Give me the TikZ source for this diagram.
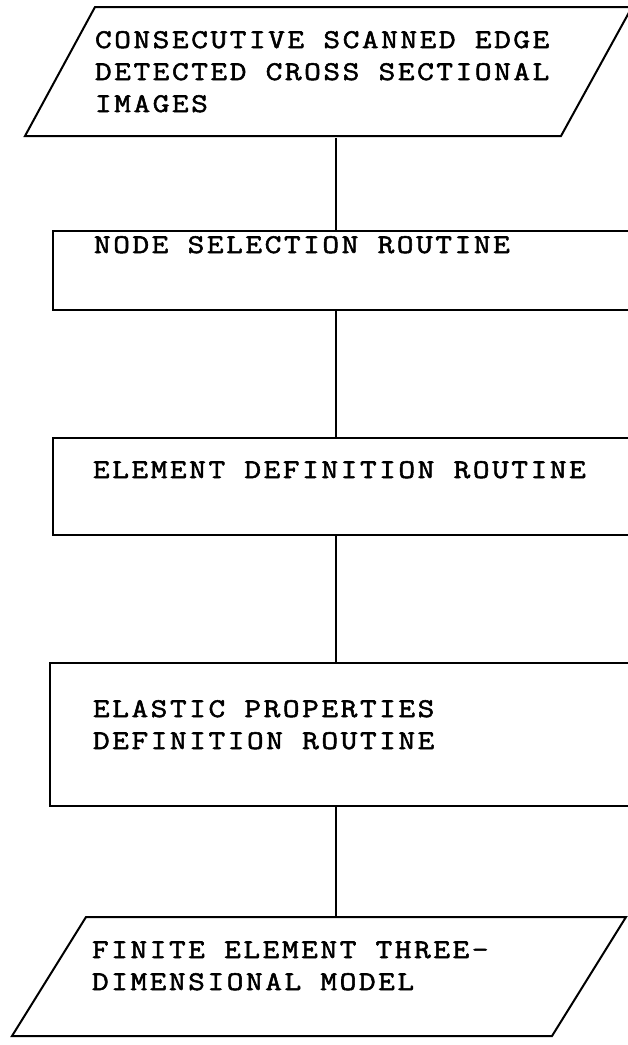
\documentclass[tikz,border=0pt]{standalone}
\usepackage{fontspec}
\setmonofont[LetterSpace=9.5,FakeStretch=1.2,FakeBold=2]{Latin Modern Mono}
\begin{document}
\begin{tikzpicture}[x=1pt,y=-1pt,line width=2pt,
  box/.style={draw,rectangle,inner sep=0pt,anchor=north west},
  area/.style={rectangle,inner sep=0pt,anchor=north west},
  txt/.style={anchor=base west,inner sep=0pt,align=left,
    font=\fontsize{27}{32}\selectfont\ttfamily}]
\useasboundingbox (0,0) rectangle (628,1045);
\clip (0,0) rectangle (628,1045);
\coordinate (col) at (336,0);
% input parallelogram
\node[area,minimum width=607pt,minimum height=129pt] (inp) at (25,7) {};
\draw (95,7) -- (632,7) -- (561,136) -- (25,136) -- cycle;
% process boxes
\node[box,minimum width=600pt,minimum height=79pt] (sel) at (52,230) {};
\node[box,minimum width=600pt,minimum height=97pt] (elem) at (52,437) {};
\node[box,minimum width=600pt,minimum height=143pt] (elas) at (49,662) {};
% output parallelogram
\node[area,minimum width=614pt,minimum height=119pt] (outp) at (12,917) {};
\draw (86,917) -- (626,917) -- (552,1036) -- (12,1036) -- cycle;
% texts (base = baseline of the last line)
\node[txt] (t1) at (94,112) {CONSECUTIVE SCANNED EDGE\\DETECTED CROSS SECTIONAL\\IMAGES};
\node[txt] (t2) at (93,253) {NODE SELECTION ROUTINE};
\node[txt] (t3) at (92,478) {ELEMENT DEFINITION ROUTINE};
\node[txt] (t4) at (92,749) {ELASTIC PROPERTIES\\DEFINITION ROUTINE};
\node[txt] (t5) at (91,990) {FINITE ELEMENT THREE-\\DIMENSIONAL MODEL};
% connectors
\draw (inp.south -| col) -- (sel.north -| col);
\draw (sel.south -| col) -- (elem.north -| col);
\draw (elem.south -| col) -- (elas.north -| col);
\draw (elas.south -| col) -- (outp.north -| col);
\end{tikzpicture}
\end{document}
